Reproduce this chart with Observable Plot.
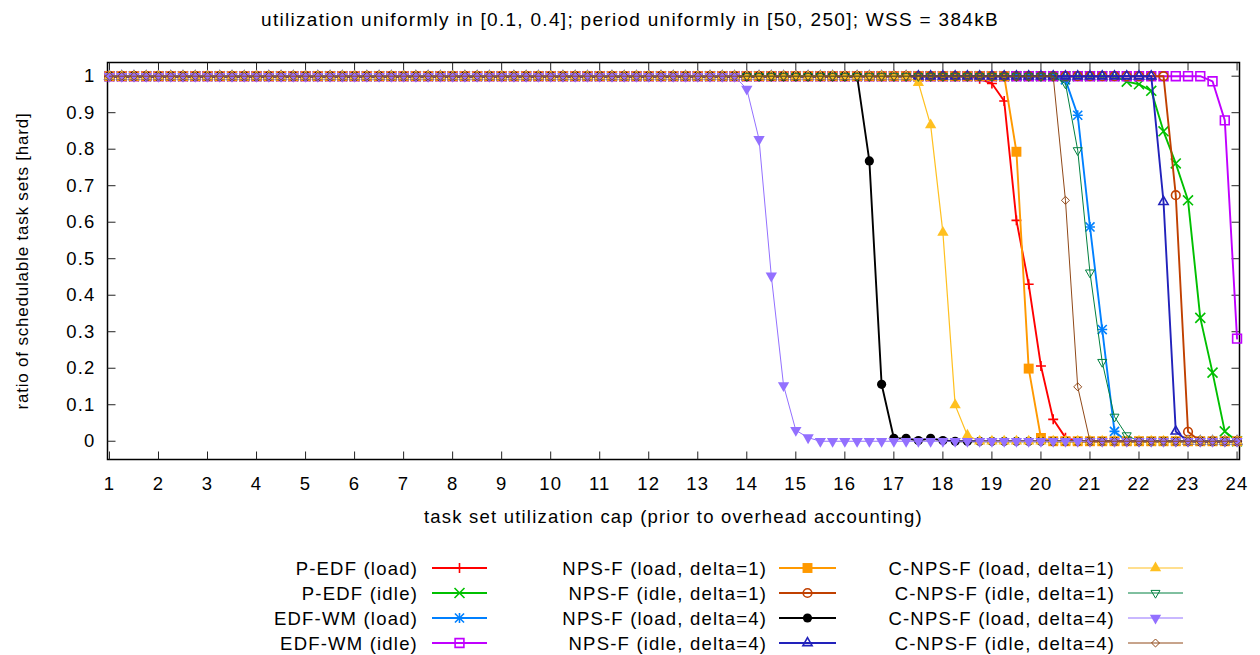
<!DOCTYPE html>
<html><head><meta charset="utf-8">
<script src="https://cdn.jsdelivr.net/npm/d3@7"></script>
<script src="https://cdn.jsdelivr.net/npm/@observablehq/plot@0.6"></script>
<style>
body{margin:0;background:#fff;font-family:"Liberation Sans",Arial,sans-serif;color:#000;}
#wrap{position:relative;width:1260px;height:655px;overflow:hidden;background:#fff;}
#title{position:absolute;left:0;top:0;width:1260px;height:40px;line-height:40px;text-align:center;font-size:19px;letter-spacing:1.3px;}
#chart{position:absolute;left:0;top:40px;}
#legend{position:absolute;left:0;top:540px;width:1260px;height:115px;}
.lab{position:absolute;text-align:right;white-space:nowrap;font-size:18.5px;letter-spacing:1.2px;line-height:25px;height:25px;}
.sw{position:absolute;overflow:visible;}
.ylab{letter-spacing:0.8px;}
</style></head><body>
<div id="wrap"><div id="title"></div><div id="chart"></div><div id="legend"></div></div>
<script>
// ---------- texts ----------
const titleText = "utilization uniformly in [0.1, 0.4]; period uniformly in [50, 250]; WSS = 384kB";
const xLabel = "task set utilization cap (prior to overhead accounting)";
const yLabel = "ratio of schedulable task sets [hard]";
const seriesNames = [
  "P-EDF (load)", "P-EDF (idle)", "EDF-WM (load)", "EDF-WM (idle)",
  "NPS-F (load, delta=1)", "NPS-F (idle, delta=1)", "NPS-F (load, delta=4)", "NPS-F (idle, delta=4)",
  "C-NPS-F (load, delta=1)", "C-NPS-F (idle, delta=1)", "C-NPS-F (load, delta=4)", "C-NPS-F (idle, delta=4)"
];
// ---------- ticks ----------
const xTicks = [1,2,3,4,5,6,7,8,9,10,11,12,13,14,15,16,17,18,19,20,21,22,23,24];
const yTicks = [0,0.1,0.2,0.3,0.4,0.5,0.6,0.7,0.8,0.9,1];
// sample positions: utilization caps 1 .. 24 in steps of 0.25
const xValues = d3.range(1, 24.001, 0.25);

// ---------- series values (93 samples each, x = 1 .. 24 step 0.25) ----------
const pEdfLoad = [
 1,1,1,1, 1,1,1,1, 1,1,1,1, 1,1,1,1, 1,1,1,1,
 1,1,1,1, 1,1,1,1, 1,1,1,1, 1,1,1,1, 1,1,1,1,
 1,1,1,1, 1,1,1,1, 1,1,1,1, 1,1,1,1, 1,1,1,1,
 1,1,1,1, 1,1,1,1, 1,1,1,0.993, 0.98,0.932,0.605,0.43, 0.206,0.06,0.01,0,
 0,0,0,0, 0,0,0,0, 0,0,0,0, 0];
const pEdfIdle = [
 1,1,1,1, 1,1,1,1, 1,1,1,1, 1,1,1,1, 1,1,1,1,
 1,1,1,1, 1,1,1,1, 1,1,1,1, 1,1,1,1, 1,1,1,1,
 1,1,1,1, 1,1,1,1, 1,1,1,1, 1,1,1,1, 1,1,1,1,
 1,1,1,1, 1,1,1,1, 1,1,1,1, 1,1,1,1, 1,1,1,1,
 1,1,1,0.985, 0.978,0.96,0.849,0.761, 0.66,0.338,0.188,0.027, 0];
const edfWmLoad = [
 1,1,1,1, 1,1,1,1, 1,1,1,1, 1,1,1,1, 1,1,1,1,
 1,1,1,1, 1,1,1,1, 1,1,1,1, 1,1,1,1, 1,1,1,1,
 1,1,1,1, 1,1,1,1, 1,1,1,1, 1,1,1,1, 1,1,1,1,
 1,1,1,1, 1,1,1,1, 1,1,1,1, 1,1,1,1, 1,1,0.99,0.893,
 0.587,0.306,0.027,0, 0,0,0,0, 0,0,0,0, 0];
const edfWmIdle = [
 1,1,1,1, 1,1,1,1, 1,1,1,1, 1,1,1,1, 1,1,1,1,
 1,1,1,1, 1,1,1,1, 1,1,1,1, 1,1,1,1, 1,1,1,1,
 1,1,1,1, 1,1,1,1, 1,1,1,1, 1,1,1,1, 1,1,1,1,
 1,1,1,1, 1,1,1,1, 1,1,1,1, 1,1,1,1, 1,1,1,1,
 1,1,1,1, 1,1,1,1, 1,1,0.986,0.879, 0.281];
const npsfLoad1 = [
 1,1,1,1, 1,1,1,1, 1,1,1,1, 1,1,1,1, 1,1,1,1,
 1,1,1,1, 1,1,1,1, 1,1,1,1, 1,1,1,1, 1,1,1,1,
 1,1,1,1, 1,1,1,1, 1,1,1,1, 1,1,1,1, 1,1,1,1,
 1,1,1,1, 1,1,1,1, 1,1,1,1, 1,1,0.793,0.199, 0.009,0,0,0,
 0,0,0,0, 0,0,0,0, 0,0,0,0, 0];
const npsfIdle1 = [
 1,1,1,1, 1,1,1,1, 1,1,1,1, 1,1,1,1, 1,1,1,1,
 1,1,1,1, 1,1,1,1, 1,1,1,1, 1,1,1,1, 1,1,1,1,
 1,1,1,1, 1,1,1,1, 1,1,1,1, 1,1,1,1, 1,1,1,1,
 1,1,1,1, 1,1,1,1, 1,1,1,1, 1,1,1,1, 1,1,1,1,
 1,1,1,1, 1,1,1,0.674, 0.026,0,0,0, 0];
const npsfLoad4 = [
 1,1,1,1, 1,1,1,1, 1,1,1,1, 1,1,1,1, 1,1,1,1,
 1,1,1,1, 1,1,1,1, 1,1,1,1, 1,1,1,1, 1,1,1,1,
 1,1,1,1, 1,1,1,1, 1,1,1,1, 1,1,1,1, 1,1,1,1,
 1,1,0.768,0.156, 0.008,0.008,0.002,0.008, 0.002,0,0,0, 0,0,0,0, 0,0,0,0,
 0,0,0,0, 0,0,0,0, 0,0,0,0, 0];
const npsfIdle4 = [
 1,1,1,1, 1,1,1,1, 1,1,1,1, 1,1,1,1, 1,1,1,1,
 1,1,1,1, 1,1,1,1, 1,1,1,1, 1,1,1,1, 1,1,1,1,
 1,1,1,1, 1,1,1,1, 1,1,1,1, 1,1,1,1, 1,1,1,1,
 1,1,1,1, 1,1,1,1, 1,1,1,1, 1,1,1,1, 1,1,1,1,
 1,1,1,1, 1,1,0.656,0.027, 0,0,0,0, 0];
const cnpsfLoad1 = [
 1,1,1,1, 1,1,1,1, 1,1,1,1, 1,1,1,1, 1,1,1,1,
 1,1,1,1, 1,1,1,1, 1,1,1,1, 1,1,1,1, 1,1,1,1,
 1,1,1,1, 1,1,1,1, 1,1,1,1, 1,1,1,1, 1,1,1,1,
 1,1,1,1, 1,1,0.982,0.866, 0.572,0.099,0.016,0, 0,0,0,0, 0,0,0,0,
 0,0,0,0, 0,0,0,0, 0,0,0,0, 0];
const cnpsfIdle1 = [
 1,1,1,1, 1,1,1,1, 1,1,1,1, 1,1,1,1, 1,1,1,1,
 1,1,1,1, 1,1,1,1, 1,1,1,1, 1,1,1,1, 1,1,1,1,
 1,1,1,1, 1,1,1,1, 1,1,1,1, 1,1,1,1, 1,1,1,1,
 1,1,1,1, 1,1,1,1, 1,1,1,1, 1,1,1,1, 1,1,0.98,0.797,
 0.462,0.217,0.067,0.016, 0,0,0,0, 0,0,0,0, 0];
const cnpsfLoad4 = [
 1,1,1,1, 1,1,1,1, 1,1,1,1, 1,1,1,1, 1,1,1,1,
 1,1,1,1, 1,1,1,1, 1,1,1,1, 1,1,1,1, 1,1,1,1,
 1,1,1,1, 1,1,1,1, 1,1,1,1, 0.965,0.827,0.453,0.153, 0.03,0.01,0,0,
 0,0,0,0, 0,0,0,0, 0,0,0,0, 0,0,0,0, 0,0,0,0,
 0,0,0,0, 0,0,0,0, 0,0,0,0, 0];
const cnpsfIdle4 = [
 1,1,1,1, 1,1,1,1, 1,1,1,1, 1,1,1,1, 1,1,1,1,
 1,1,1,1, 1,1,1,1, 1,1,1,1, 1,1,1,1, 1,1,1,1,
 1,1,1,1, 1,1,1,1, 1,1,1,1, 1,1,1,1, 1,1,1,1,
 1,1,1,1, 1,1,1,1, 1,1,1,1, 1,1,1,1, 1,1,0.66,0.149,
 0,0,0,0, 0,0,0,0, 0,0,0,0, 0];

const seriesValues = [pEdfLoad, pEdfIdle, edfWmLoad, edfWmIdle, npsfLoad1, npsfIdle1, npsfLoad4, npsfIdle4,
                      cnpsfLoad1, cnpsfIdle1, cnpsfLoad4, cnpsfIdle4];

// ---------- styles ----------
const seriesStyles = [
  {color:"#ff0000", lw:1.9, marks:[{symbol:"plus", r:3.3, sw:1.6}]},
  {color:"#00c000", lw:1.9, marks:[{symbol:"times", r:4.6, sw:1.6}]},
  {color:"#0080ff", lw:1.9, marks:[{symbol:"plus", r:3.3, sw:1.6},{symbol:"times", r:4.2, sw:1.6}]},
  {color:"#c000ff", lw:1.9, marks:[{symbol:"square2", r:5.6, sw:1.6}]},
  {color:"#ff9900", lw:1.9, marks:[{symbol:"square", r:5.6, filled:true}]},
  {color:"#c04000", lw:1.9, marks:[{symbol:"circle", r:4.3, sw:1.6}]},
  {color:"#000000", lw:1.9, marks:[{symbol:"circle", r:4.6, filled:true}]},
  {color:"#2222bb", lw:1.9, marks:[{symbol:"triangle2", r:4.4, sw:1.6}]},
  {color:"#ffc020", lw:1.2, marks:[{symbol:"triangle", r:4.2, filled:true}]},
  {color:"#008040", lw:1.0, marks:[{symbol:"triangle2", r:4.3, sw:1.0, rotate:180}]},
  {color:"#9370ff", lw:1.0, marks:[{symbol:"triangle", r:4.2, filled:true, rotate:180}]},
  {color:"#904818", lw:1.0, marks:[{symbol:"diamond2", r:3.6, sw:1.0}]}
];

document.getElementById("title").textContent = titleText;

const tickShape = {draw(ctx, l) { ctx.moveTo(0, 0); ctx.lineTo(0, -l); }};
const tickOpts = {length: 8, anchor: "start", shape: tickShape, stroke: "#222", strokeWidth: 1, strokeLinecap: "butt"};

const marks = [
  Plot.frame({stroke: "#000", strokeWidth: 1.5}),
  Plot.vector(xTicks, {x: d => d, frameAnchor: "bottom", rotate: 0, ...tickOpts}),
  Plot.vector(xTicks, {x: d => d, frameAnchor: "top", rotate: 180, ...tickOpts}),
  Plot.vector(yTicks, {y: d => d, frameAnchor: "left", rotate: 90, ...tickOpts}),
  Plot.vector(yTicks, {y: d => d, frameAnchor: "right", rotate: -90, ...tickOpts}),
  Plot.axisX(xTicks, {tickSize: 0, tickPadding: 17, tickFormat: d => String(d), label: null}),
  Plot.axisY(yTicks, {tickSize: 0, tickPadding: 12, tickFormat: d3.format("~g"), label: null}),
  Plot.text([xLabel], {frameAnchor: "bottom", dy: 63, text: d => d}),
  Plot.text([yLabel], {frameAnchor: "left", textAnchor: "middle", dx: -85, rotate: -90, fontSize: 17, className: "ylab", text: d => d})
];

seriesValues.forEach((vals, i) => {
  const st = seriesStyles[i];
  const data = xValues.map((x, j) => ({x, y: vals[j]}));
  marks.push(Plot.line(data, {x: "x", y: "y", stroke: st.color, strokeWidth: st.lw}));
  st.marks.forEach(m => {
    marks.push(Plot.dot(data, {
      x: "x", y: "y", symbol: m.symbol, r: m.r,
      fill: m.filled ? st.color : "none",
      stroke: m.filled ? "none" : st.color,
      strokeWidth: m.sw || 1,
      rotate: m.rotate || 0
    }));
  });
});

const chart = Plot.plot({
  width: 1260, height: 500,
  marginLeft: 107, marginRight: 21, marginTop: 22, marginBottom: 81,
  x: {domain: [0.96, 24.05]},
  y: {domain: [-0.05, 1.0375]},
  style: "font-family: 'Liberation Sans', Arial, sans-serif; font-size: 18.5px; letter-spacing: 1.2px; color: #000; background: #fff; overflow: visible;",
  marks
});
document.getElementById("chart").appendChild(chart);

// ---------- legend ----------
const legend = d3.select("#legend");
const colLabelRight = [418, 767, 1115];
const colLine = [[432, 487], [779, 836], [1128, 1183]];
const rowY = [28, 53, 78, 103];
const symMap = {plus: d3.symbolPlus, times: d3.symbolTimes, square2: d3.symbolSquare2, square: d3.symbolSquare,
  circle: d3.symbolCircle, triangle2: d3.symbolTriangle2, triangle: d3.symbolTriangle, diamond2: d3.symbolDiamond2};
seriesNames.forEach((name, i) => {
  const c = Math.floor(i / 4), r = i % 4, st = seriesStyles[i];
  legend.append("div").attr("class", "lab")
    .style("right", (1260 - colLabelRight[c]) + "px")
    .style("top", (rowY[r] - 12.5) + "px")
    .text(name);
  const [x1, x2] = colLine[c];
  const svg = legend.append("svg").attr("class", "sw")
    .attr("width", x2 - x1 + 20).attr("height", 24)
    .style("left", (x1 - 10) + "px").style("top", (rowY[r] - 12) + "px");
  svg.append("line").attr("x1", 10).attr("x2", x2 - x1 + 10).attr("y1", 12).attr("y2", 12)
    .attr("stroke", st.color).attr("stroke-width", st.lw);
  st.marks.forEach(m => {
    svg.append("path")
      .attr("d", d3.symbol(symMap[m.symbol], Math.PI * m.r * m.r)())
      .attr("transform", `translate(${(x2 - x1) / 2 + 10},12) rotate(${m.rotate || 0})`)
      .attr("fill", m.filled ? st.color : "none")
      .attr("stroke", m.filled ? "none" : st.color)
      .attr("stroke-width", m.sw || 1);
  });
});
</script>
</body></html>
